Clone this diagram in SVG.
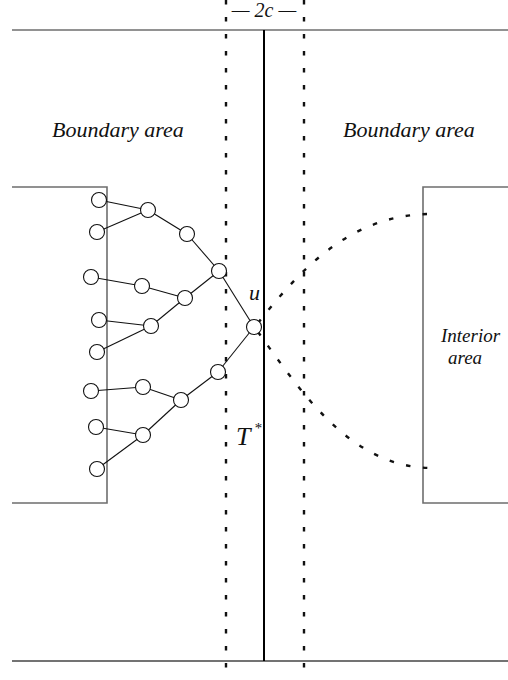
<svg xmlns="http://www.w3.org/2000/svg" width="508" height="680" viewBox="0 0 508 680">
<style>
.frame{stroke:#6e6e6e;stroke-width:1.6;fill:none}
.dot{stroke:#111;stroke-width:2.4;stroke-dasharray:4.5 12.5;fill:none}
.edge{stroke:#111;stroke-width:1.1;fill:none}
.node{fill:#fff;stroke:#111;stroke-width:1.1}
text{font-family:'Liberation Serif','Times New Roman',serif;font-style:italic;fill:#111}
</style>
<rect width="508" height="680" fill="#fff"/>
<g id="frame">
<line class="frame" x1="12" y1="30" x2="508" y2="30"/>
<line class="frame" x1="12" y1="661" x2="508" y2="661" style="stroke:#444"/>
<polyline class="frame" points="12,187 107,187 107,503 12,503"/>
<polyline class="frame" points="508,187 423,187 423,503 508,503"/>
</g>
<g id="strip">
<line class="dot" x1="226" y1="0" x2="226" y2="680"/>
<line class="dot" x1="304" y1="0" x2="304" y2="680"/>
<line x1="264" y1="30" x2="264" y2="661" stroke="#000" stroke-width="2"/>
</g>
<g id="connectors">
<line class="edge" x1="99" y1="200" x2="148" y2="210"/>
<line class="edge" x1="97" y1="232" x2="148" y2="210"/>
<line class="edge" x1="148" y1="210" x2="187" y2="234"/>
<line class="edge" x1="187" y1="234" x2="219" y2="271"/>
<line class="edge" x1="91" y1="277" x2="142" y2="286"/>
<line class="edge" x1="142" y1="286" x2="185" y2="298"/>
<line class="edge" x1="185" y1="298" x2="219" y2="271"/>
<line class="edge" x1="219" y1="271" x2="254" y2="327"/>
<line class="edge" x1="99" y1="320" x2="151" y2="326"/>
<line class="edge" x1="97" y1="352" x2="151" y2="326"/>
<line class="edge" x1="151" y1="326" x2="185" y2="298"/>
<line class="edge" x1="254" y1="327" x2="218" y2="372"/>
<line class="edge" x1="218" y1="372" x2="181" y2="400"/>
<line class="edge" x1="91" y1="391" x2="143" y2="387"/>
<line class="edge" x1="143" y1="387" x2="181" y2="400"/>
<line class="edge" x1="96" y1="427" x2="143" y2="435"/>
<line class="edge" x1="143" y1="435" x2="181" y2="400"/>
<line class="edge" x1="97" y1="469" x2="143" y2="435"/>
<path class="dot" d="M258,323 C300,270 350,214 432,214"/>
<path class="dot" d="M258,332 C300,390 350,468 432,468"/>
</g>
<g id="nodes">
<circle id="n1" class="node" cx="99" cy="200" r="7.5"/>
<circle id="n2" class="node" cx="97" cy="232" r="7.5"/>
<circle id="n3" class="node" cx="148" cy="210" r="7.5"/>
<circle id="n4" class="node" cx="187" cy="234" r="7.5"/>
<circle id="n5" class="node" cx="219" cy="271" r="7.5"/>
<circle id="n6" class="node" cx="91" cy="277" r="7.5"/>
<circle id="n7" class="node" cx="142" cy="286" r="7.5"/>
<circle id="n8" class="node" cx="185" cy="298" r="7.5"/>
<circle id="n9" class="node" cx="99" cy="320" r="7.5"/>
<circle id="n10" class="node" cx="151" cy="326" r="7.5"/>
<circle id="n11" class="node" cx="97" cy="352" r="7.5"/>
<circle id="u" class="node" cx="254" cy="327" r="7.5"/>
<circle id="n12" class="node" cx="218" cy="372" r="7.5"/>
<circle id="n13" class="node" cx="91" cy="391" r="7.5"/>
<circle id="n14" class="node" cx="143" cy="387" r="7.5"/>
<circle id="n15" class="node" cx="181" cy="400" r="7.5"/>
<circle id="n16" class="node" cx="96" cy="427" r="7.5"/>
<circle id="n17" class="node" cx="143" cy="435" r="7.5"/>
<circle id="n18" class="node" cx="97" cy="469" r="7.5"/>
</g>
<g id="labels">
<text x="52" y="137" font-size="22">Boundary area</text>
<text x="343" y="137" font-size="22">Boundary area</text>
<text x="441" y="342" font-size="19">Interior</text>
<text x="448" y="364" font-size="19">area</text>
<text x="249" y="300" font-size="22">u</text>
<text x="236" y="445" font-size="26">T</text>
<text x="254" y="433" font-size="15">*</text>
<text x="264" y="17" font-size="20" text-anchor="middle" font-style="normal">— 2<tspan font-style="italic">c</tspan> —</text>
</g>
</svg>
